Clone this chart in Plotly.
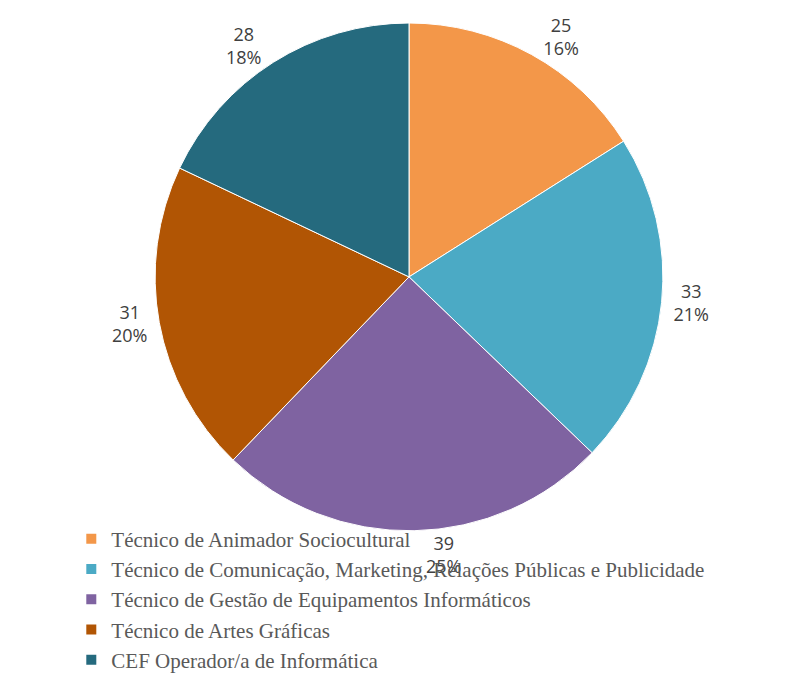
import plotly.graph_objects as go

# cursos e numero de alunos
cursos = [
    "Técnico de Animador Sociocultural",
    "Técnico de Comunicação, Marketing, Relações Públicas e Publicidade",
    "Técnico de Gestão de Equipamentos Informáticos",
    "Técnico de Artes Gráficas",
    "CEF Operador/a de Informática",
]
alunos = [25, 33, 39, 31, 28]
cores = ["#F39749", "#4BAAC5", "#7F63A1", "#B15504", "#256A7E"]

fig = go.Figure()
fig.add_trace(go.Pie(
    labels=cursos,
    values=alunos,
    sort=False,
    direction="clockwise",
    rotation=0,
    marker=dict(colors=cores, line=dict(color="#ffffff", width=1)),
    texttemplate="%{value}<br>%{percent:.0%}",
    textposition="outside",
    textfont=dict(family="Open Sans, Liberation Sans, sans-serif", size=18, color="#404040"),
    hoverinfo="label+value+percent",
    domain=dict(x=[0, 1], y=[0.22, 1]),
    showlegend=True,
))

fig.update_layout(
    width=805,
    height=673,
    paper_bgcolor="white",
    plot_bgcolor="white",
    margin=dict(l=20, r=20, t=12, b=0),
    legend=dict(
        orientation="v",
        x=-0.05,
        xanchor="left",
        y=-0.01,
        yanchor="bottom",
        font=dict(family="Liberation Serif, DejaVu Serif, serif", size=21, color="#595959"),
        itemsizing="constant",
        tracegroupgap=0,
        bgcolor="rgba(0,0,0,0)",
    ),
)

fig.write_html("out.html")
